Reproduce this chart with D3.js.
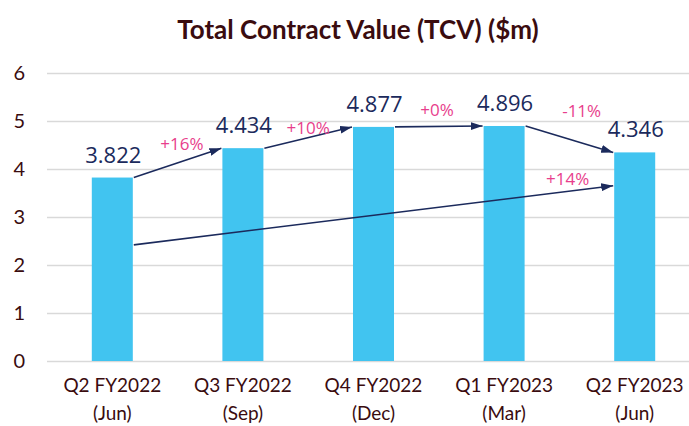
<!DOCTYPE html>
<html>
<head>
<meta charset="utf-8">
<script src="https://cdn.jsdelivr.net/npm/d3@7"></script>
<style>
  body { margin: 0; background: #fff; }
  svg { display: block; }
</style>
</head>
<body>
<svg id="chart" width="689" height="426"></svg>
<script>
// chart data
const quarters = ['Q2 FY2022', 'Q3 FY2022', 'Q4 FY2022', 'Q1 FY2023', 'Q2 FY2023'];
const months = ['(Jun)', '(Sep)', '(Dec)', '(Mar)', '(Jun)'];
const tcv = [3.822, 4.434, 4.877, 4.896, 4.346];
const qoqChange = ['+16%', '+10%', '+0%', '-11%'];
const yoyChange = '+14%';
// year-on-year arrow runs from first bar to last bar, at these values
const yoyArrowValues = [2.42, 3.65];
const yTicks = [0, 1, 2, 3, 4, 5, 6];

// label placement along each arrow: fraction t and vertical nudge
const qoqLabelPlace = [
  { t: 0.55, dy: -11 },
  { t: 0.5, dy: -4 },
  { t: 0.48, dy: -10 },
  { t: 0.64, dy: -26 },
];
const yoyLabelPlace = { t: 0.905, dy: -6 };

const navy = '#1b2a5c';
const pink = '#e83e8c';
const maroon = '#3a0c0f';

const svg = d3.select('#chart');
const margin = { left: 47, right: -11, top: 73, bottom: 65 };
const width = 689;
const height = 426;

const x = d3.scaleBand()
  .domain(quarters)
  .range([margin.left, width - margin.right])
  .paddingInner(0.686)
  .paddingOuter(0.343);

const y = d3.scaleLinear()
  .domain([0, 6])
  .range([height - margin.bottom, margin.top]);

// title
svg.append('text')
  .attr('x', 358)
  .attr('y', 39)
  .attr('text-anchor', 'middle')
  .attr('font-family', 'Lato, sans-serif')
  .attr('font-weight', 'bold')
  .attr('font-size', 26)
  .attr('fill', maroon)
  .text('Total Contract Value (TCV) ($m)');

// gridlines
svg.append('g')
  .attr('class', 'grid')
  .attr('transform', `translate(${margin.left},0)`)
  .call(d3.axisLeft(y).tickValues(yTicks).tickSize(-(width - margin.left - margin.right)).tickFormat(''))
  .call((g) => g.select('.domain').remove())
  .call((g) => g.selectAll('line').attr('stroke', '#d9d9d9').attr('stroke-width', 1.5));

// y axis labels
svg.append('g')
  .attr('transform', `translate(${margin.left},0)`)
  .call(d3.axisLeft(y).tickValues(yTicks).tickSize(0).tickPadding(22).tickFormat(d3.format('d')))
  .call((g) => g.select('.domain').remove())
  .call((g) => g.selectAll('text')
    .attr('font-family', 'Lato, sans-serif')
    .attr('font-size', 20)
    .attr('fill', maroon));

// x axis labels, two lines each
const xAxis = svg.append('g')
  .attr('transform', `translate(0,${height - margin.bottom})`)
  .call(d3.axisBottom(x).tickSize(0).tickFormat(''))
  .call((g) => g.select('.domain').remove());
xAxis.selectAll('.tick text').remove();
xAxis.selectAll('.tick').each(function (d, i) {
  const t = d3.select(this).append('text')
    .attr('text-anchor', 'middle')
    .attr('font-family', 'Lato, sans-serif')
    .attr('font-size', 19)
    .attr('fill', maroon);
  t.append('tspan').attr('x', 0).attr('y', 31).text(d);
  t.append('tspan').attr('x', 0).attr('y', 59).text(months[i]);
});

// bars
svg.append('g')
  .selectAll('rect')
  .data(tcv)
  .join('rect')
    .attr('x', (d, i) => x(quarters[i]))
    .attr('y', (d) => y(d))
    .attr('width', x.bandwidth())
    .attr('height', (d) => y(0) - y(d))
    .attr('fill', '#41c4f0');

// value labels
svg.append('g')
  .selectAll('text')
  .data(tcv)
  .join('text')
    .attr('x', (d, i) => x(quarters[i]) + x.bandwidth() / 2 + 1)
    .attr('y', (d) => y(d) - 15)
    .attr('text-anchor', 'middle')
    .attr('font-family', '"Open Sans", sans-serif')
    .attr('font-size', 22)
    .attr('fill', navy)
    .text((d) => d3.format('.3f')(d));

// arrow head
svg.append('defs').append('marker')
  .attr('id', 'arrow')
  .attr('viewBox', [0, 0, 12, 8])
  .attr('refX', 12)
  .attr('refY', 4)
  .attr('markerWidth', 12)
  .attr('markerHeight', 8)
  .attr('markerUnits', 'userSpaceOnUse')
  .attr('orient', 'auto')
  .append('path')
    .attr('d', d3.line()([[0, 0], [12, 4], [0, 8]]))
    .attr('fill', navy);

// quarter on quarter arrows
const qoq = qoqChange.map((label, i) => ({
  label,
  x1: x(quarters[i]) + x.bandwidth() + 1,
  y1: y(tcv[i]),
  x2: x(quarters[i + 1]) - 1,
  y2: y(tcv[i + 1]),
  place: qoqLabelPlace[i],
}));
const yoy = {
  label: yoyChange,
  x1: x(quarters[0]) + x.bandwidth() + 1,
  y1: y(yoyArrowValues[0]),
  x2: x(quarters[quarters.length - 1]) - 1,
  y2: y(yoyArrowValues[1]),
  place: yoyLabelPlace,
};
const arrows = [...qoq, yoy];

const arrowG = svg.append('g');
arrowG.selectAll('line')
  .data(arrows)
  .join('line')
    .attr('x1', (d) => d.x1)
    .attr('y1', (d) => d.y1)
    .attr('x2', (d) => d.x2)
    .attr('y2', (d) => d.y2)
    .attr('stroke', navy)
    .attr('stroke-width', 1.6)
    .attr('marker-end', 'url(#arrow)');

arrowG.selectAll('text')
  .data(arrows)
  .join('text')
    .attr('x', (d) => d.x1 + (d.x2 - d.x1) * d.place.t)
    .attr('y', (d) => d.y1 + (d.y2 - d.y1) * d.place.t + d.place.dy)
    .attr('text-anchor', 'middle')
    .attr('font-family', '"Open Sans", sans-serif')
    .attr('font-size', 17)
    .attr('fill', pink)
    .text((d) => d.label);
</script>
</body>
</html>
